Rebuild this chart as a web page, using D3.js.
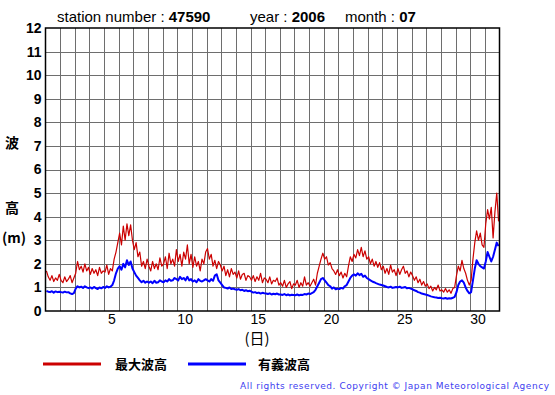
<!DOCTYPE html>
<html><head><meta charset="utf-8">
<script src="https://cdn.jsdelivr.net/npm/d3@7"></script>
<style>body{margin:0;background:#fff}svg{display:block}</style>
</head><body>
<script>
const stationNumber = "47590", year = "2006", month = "07";
const days = d3.range(1, 32);
const yTicks = d3.range(0, 13);
const xLabelDays = [5, 10, 15, 20, 25, 30];
const seriesNames = ["最大波高", "有義波高"];
const seriesColors = ["#cc0000", "#0000ff"];
// 3-hourly values, 8 per day
const maxWave = [
 1.7,1.45,1.3,1.5,1.25,1.4,1.3,1.55,
 1.3,1.2,1.45,1.25,1.35,1.5,1.2,1.4,
 1.6,2.1,1.75,1.9,1.65,2.0,1.7,1.85,
 1.55,1.8,1.6,1.75,1.5,1.85,1.6,1.7,
 1.65,1.95,1.55,1.8,1.7,2.2,2.5,2.9,
 3.3,2.8,3.6,3.0,3.7,3.2,3.65,3.0,
 2.6,2.9,2.3,2.5,1.9,2.1,1.8,2.2,
 1.9,1.7,2.1,1.8,2.0,1.75,2.25,1.9,
 2.0,2.3,1.8,2.45,2.0,2.2,1.9,2.6,
 2.1,2.4,1.9,2.5,2.2,2.8,2.0,2.4,
 1.85,2.3,1.9,2.1,1.7,2.2,2.0,2.5,
 2.65,2.2,2.4,1.9,2.15,1.8,2.1,1.95,
 1.7,1.9,1.5,1.75,1.45,1.8,1.55,1.65,
 1.4,1.7,1.35,1.55,1.6,1.3,1.5,1.45,
 1.3,1.5,1.25,1.45,1.3,1.6,1.2,1.4,
 1.35,1.2,1.45,1.15,1.3,1.25,1.4,1.1,
 1.2,1.05,1.3,1.0,1.15,1.25,0.95,1.15,
 1.1,1.3,1.0,1.2,1.05,1.45,1.1,1.2,
 1.05,1.2,1.35,1.1,1.6,1.9,2.2,2.45,
 2.2,2.3,1.95,2.05,1.8,1.7,1.55,1.75,
 1.5,1.65,1.4,1.6,1.45,1.9,2.3,2.1,
 2.4,2.25,2.6,2.35,2.7,2.3,2.55,2.2,
 2.3,2.0,2.2,1.9,2.1,1.85,2.05,1.75,
 1.9,1.6,1.8,1.55,1.95,1.65,1.75,1.5,
 1.8,1.55,1.75,1.9,1.6,1.7,1.45,1.65,
 1.5,1.3,1.45,1.2,1.35,1.1,1.25,1.05,
 1.15,0.95,1.05,0.85,1.0,0.9,1.1,0.85,
 0.9,0.8,0.95,0.8,0.9,0.75,0.95,1.0,
 1.5,1.9,1.7,2.15,1.8,1.6,1.3,1.1,
 1.3,2.2,2.9,3.4,3.0,3.3,2.8,2.7,
 3.7,4.3,3.9,4.4,3.1,4.2,5.0,3.8
];
const sigWave = [
 0.85,0.82,0.8,0.84,0.78,0.83,0.8,0.82,
 0.8,0.78,0.82,0.79,0.8,0.75,0.72,0.76,
 0.95,1.05,1.0,1.03,0.98,1.05,1.0,0.97,
 1.0,0.95,1.02,0.97,0.93,1.0,0.96,1.02,
 0.98,1.05,1.0,1.03,1.1,1.3,1.6,1.8,
 1.9,1.75,2.0,1.85,2.15,1.95,2.1,1.8,
 1.65,1.5,1.4,1.3,1.22,1.28,1.2,1.25,
 1.2,1.25,1.18,1.28,1.2,1.22,1.3,1.25,
 1.22,1.3,1.25,1.35,1.28,1.3,1.4,1.35,
 1.3,1.45,1.35,1.4,1.3,1.45,1.3,1.35,
 1.25,1.3,1.22,1.35,1.28,1.25,1.3,1.35,
 1.3,1.25,1.35,1.28,1.5,1.56,1.3,1.2,
 1.1,1.0,0.98,0.95,1.0,0.93,0.95,0.92,
 0.9,0.93,0.88,0.9,0.85,0.88,0.84,0.86,
 0.82,0.78,0.8,0.76,0.78,0.74,0.77,0.75,
 0.74,0.72,0.75,0.7,0.73,0.71,0.74,0.7,
 0.7,0.68,0.72,0.67,0.7,0.66,0.69,0.68,
 0.67,0.7,0.66,0.69,0.68,0.72,0.7,0.74,
 0.72,0.76,0.8,0.9,1.05,1.2,1.35,1.4,
 1.3,1.2,1.1,1.05,0.95,1.0,0.92,0.95,
 0.93,0.98,0.95,1.05,1.1,1.25,1.4,1.5,
 1.55,1.5,1.6,1.52,1.58,1.45,1.5,1.4,
 1.35,1.3,1.25,1.22,1.18,1.15,1.12,1.1,
 1.08,1.05,1.02,1.0,1.03,0.98,1.0,1.02,
 1.0,1.03,0.98,1.0,1.02,0.96,0.98,0.95,
 0.92,0.88,0.85,0.8,0.78,0.74,0.72,0.7,
 0.68,0.65,0.62,0.6,0.58,0.57,0.55,0.56,
 0.54,0.53,0.55,0.52,0.54,0.53,0.56,0.6,
 0.8,1.1,1.25,1.3,1.2,1.0,0.85,0.75,
 0.8,1.3,1.8,2.15,2.0,1.9,1.85,1.8,
 2.1,2.5,2.3,2.1,2.3,2.6,2.9,2.75
];
const W = 555, H = 395;
const L = 45.5, R = 499.5, T = 28, B = 311;
const svg = d3.select("body").append("svg").attr("width", W).attr("height", H);
svg.append("rect").attr("width", W).attr("height", H).attr("fill", "#fff");
const x = d3.scaleLinear().domain([0, days.length]).range([L, R]);
const y = d3.scaleLinear().domain([0, 12]).range([B, T]);

// grid
const g = svg.append("g");
g.selectAll("line.v").data(d3.range(1, days.length)).join("line")
  .attr("x1", d => Math.round(x(d)) + 0.5).attr("x2", d => Math.round(x(d)) + 0.5)
  .attr("y1", T).attr("y2", B).attr("stroke", "#6e6e6e").attr("stroke-width", 1);
g.selectAll("line.h").data(d3.range(1, 12)).join("line")
  .attr("y1", d => Math.round(y(d)) + 0.5).attr("y2", d => Math.round(y(d)) + 0.5)
  .attr("x1", L).attr("x2", R).attr("stroke", "#6e6e6e").attr("stroke-width", 1);

// series
const t = (i) => i / 8;
const line = d3.line().x((d, i) => x(t(i) + 0.0625)).y(d => y(d));
svg.append("path").datum(maxWave).attr("d", line).attr("fill", "none")
  .attr("stroke", seriesColors[0]).attr("stroke-width", 1.2).attr("stroke-linejoin", "round");
svg.append("path").datum(sigWave).attr("d", line).attr("fill", "none")
  .attr("stroke", seriesColors[1]).attr("stroke-width", 2).attr("stroke-linejoin", "round");

// border
svg.append("rect").attr("x", L).attr("y", T).attr("width", R - L).attr("height", B - T)
  .attr("fill", "none").attr("stroke", "#000").attr("stroke-width", 1.5);

const F = "Liberation Sans, Arial, sans-serif";
const J = "Noto Sans CJK JP, sans-serif";

// axes
const ya = svg.append("g").attr("transform", `translate(${L},0)`)
  .call(d3.axisLeft(y).tickValues(yTicks).tickSize(0).tickPadding(4).tickFormat(d3.format("d")));
ya.select(".domain").remove();
ya.selectAll("text").attr("font-family", F)
  .attr("font-size", 14).attr("font-weight", "bold").attr("fill", "#000");

const xa = svg.append("g").attr("transform", `translate(0,${B})`)
  .call(d3.axisBottom(x).tickValues(xLabelDays.map(d => d - 0.5)).tickSize(0).tickPadding(3)
    .tickFormat(d => String(d + 0.5)));
xa.select(".domain").remove();
xa.selectAll("text").attr("font-family", F)
  .attr("font-size", 14).attr("fill", "#000");

// title
const tt = svg.append("text").attr("y", 22).attr("font-family", F).attr("font-size", 15).attr("fill", "#000");
tt.append("tspan").attr("x", 57).text("station number : ");
tt.append("tspan").attr("font-weight", "bold").text(stationNumber);
const t2 = svg.append("text").attr("y", 22).attr("font-family", F).attr("font-size", 15).attr("fill", "#000");
t2.append("tspan").attr("x", 250).text("year : ");
t2.append("tspan").attr("font-weight", "bold").text(year);
const t3 = svg.append("text").attr("y", 22).attr("font-family", F).attr("font-size", 15).attr("fill", "#000");
t3.append("tspan").attr("x", 345).text("month : ");
t3.append("tspan").attr("font-weight", "bold").text(month);

// y title
svg.append("text").attr("x", 12).attr("y", 143).attr("dy", "0.35em").attr("text-anchor", "middle")
  .attr("font-family", J).attr("font-size", 14).attr("font-weight", "bold").text("波");
svg.append("text").attr("x", 12).attr("y", 208).attr("dy", "0.35em").attr("text-anchor", "middle")
  .attr("font-family", J).attr("font-size", 14).attr("font-weight", "bold").text("高");
svg.append("text").attr("x", 14).attr("y", 238).attr("dy", "0.35em").attr("text-anchor", "middle")
  .attr("font-family", J).attr("font-size", 14).attr("font-weight", "bold").text("(m)");
// x title
svg.append("text").attr("x", 257).attr("y", 339).attr("dy", "0.35em").attr("text-anchor", "middle")
  .attr("font-family", J).attr("font-size", 15).text("(日)");

// legend
const legX = [43, 188], legTX = [115, 258];
seriesNames.forEach((n, i) => {
  svg.append("line").attr("x1", legX[i]).attr("x2", legX[i] + 58).attr("y1", 364).attr("y2", 364)
    .attr("stroke", seriesColors[i]).attr("stroke-width", 3);
  svg.append("text").attr("x", legTX[i]).attr("y", 364).attr("dy", "0.35em")
    .attr("font-family", J).attr("font-size", 13).attr("font-weight", "bold").text(n);
});
svg.append("text").attr("x", 240).attr("y", 386).attr("dy", "0.35em")
  .attr("font-family", "DejaVu Sans, sans-serif").attr("font-size", 9).attr("fill", "#4040f0")
  .attr("textLength", 309).attr("lengthAdjust", "spacing")
  .text("All rights reserved. Copyright © Japan Meteorological Agency");
</script>
</body></html>
